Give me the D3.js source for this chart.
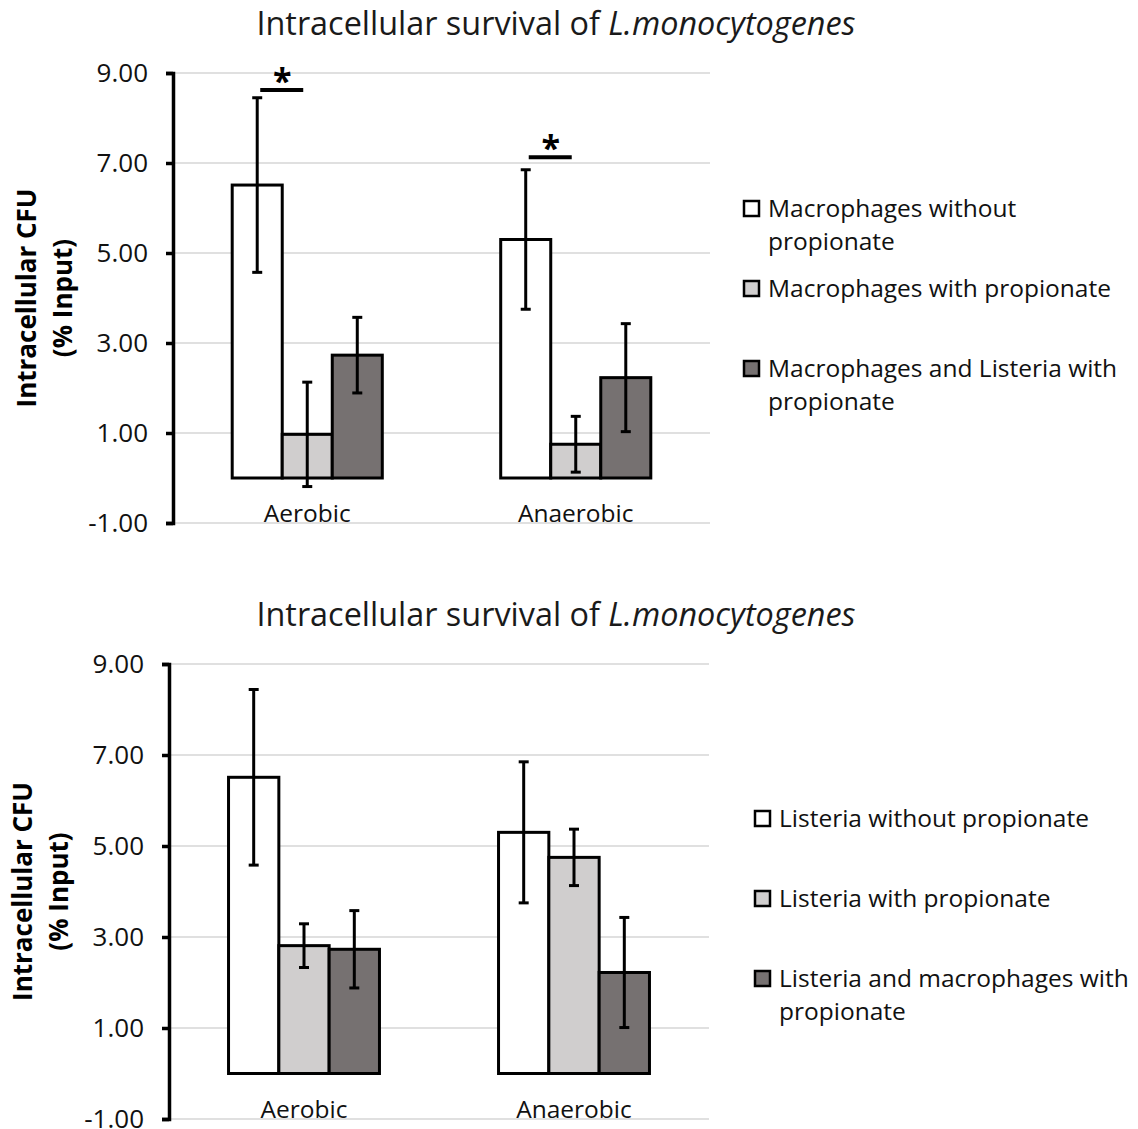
<!DOCTYPE html>
<html lang="en">
<head>
    <meta charset="UTF-8">
    <title>Intracellular survival of L.monocytogenes</title>
    <script src="https://d3js.org/d3.v7.min.js"></script>
    <style>
        body { margin: 0; background: #fff; }
        svg { display: block; font-family: "Open Sans", Lato, sans-serif; }
    </style>
</head>
<body>
    <svg width="1138" height="1129"></svg>

    <script>
        // Data
        const categories = ["Aerobic", "Anaerobic"];
        const yTicks = [-1, 1, 3, 5, 7, 9];
        const seriesFills = ["#ffffff", "#d0cece", "#767171"];

        const topSeries = [
            ["Macrophages without", "propionate"],
            ["Macrophages with propionate"],
            ["Macrophages and Listeria with", "propionate"]
        ];
        // one array per series, values per category
        const topMeans = [[6.51, 5.30], [0.97, 0.75], [2.73, 2.23]];
        const topErrors = [[1.94, 1.55], [1.16, 0.62], [0.84, 1.20]];
        const topSig = [
            { category: "Aerobic", value: 8.62 },
            { category: "Anaerobic", value: 7.13 }
        ];

        const bottomSeries = [
            ["Listeria without propionate"],
            ["Listeria with propionate"],
            ["Listeria and macrophages with", "propionate"]
        ];
        const bottomMeans = [[6.51, 5.30], [2.81, 4.75], [2.73, 2.22]];
        const bottomErrors = [[1.93, 1.55], [0.48, 0.62], [0.85, 1.21]];

        const svg = d3.select("svg");

        function drawPanel(p) {
            const g = svg.append("g");

            const y = d3.scaleLinear().domain([-1, 9]).range([p.yBottom, p.yTop]);
            const x = d3.scaleBand().domain(categories)
                .range([p.left, p.right])
                .paddingInner(0.441).paddingOuter(0.2205);
            const xs = d3.scaleBand().domain(d3.range(p.series.length))
                .range([0, x.bandwidth()]);

            // title
            const title = g.append("text")
                .attr("x", 556).attr("y", p.titleY)
                .attr("text-anchor", "middle")
                .attr("dominant-baseline", "central")
                .style("font-size", "32.4px").attr("fill", "#1a1a1a");
            title.append("tspan").text("Intracellular survival of ");
            title.append("tspan").style("font-style", "italic").text("L.monocytogenes");

            // gridlines
            g.append("g").selectAll("line")
                .data(yTicks).join("line")
                .attr("x1", p.left).attr("x2", p.right)
                .attr("y1", d => y(d)).attr("y2", d => y(d))
                .attr("stroke", "#d6d6d6").attr("stroke-width", 1.5);

            // y axis
            const axis = g.append("g")
                .attr("transform", `translate(${p.left},0)`)
                .call(d3.axisLeft(y).tickValues(yTicks)
                    .tickFormat(d => d.toFixed(2)).tickSize(7).tickPadding(18));
            axis.select(".domain").attr("stroke", "#000").attr("stroke-width", 3.5);
            axis.selectAll(".tick line").attr("stroke", "#000").attr("stroke-width", 3.5);
            axis.selectAll(".tick text")
                .style("font-size", "26px").attr("fill", "#111")
                .attr("font-family", "'Open Sans', sans-serif");

            // y axis title
            const yt = g.append("text")
                .attr("transform", `translate(${p.left - 146},${(p.yTop + p.yBottom) / 2}) rotate(-90)`)
                .attr("text-anchor", "middle")
                .style("font-size", "26px").style("font-weight", "bold");
            yt.append("tspan").attr("x", 0).attr("dy", "0.35em").text("Intracellular CFU");
            yt.append("tspan").attr("x", 0).attr("dy", "1.4em").text("(% Input)");

            // bars
            const flat = [];
            p.means.forEach((vals, si) => vals.forEach((v, ci) => {
                flat.push({ s: si, c: categories[ci], v: v, e: p.errors[si][ci] });
            }));

            g.append("g").selectAll("rect")
                .data(flat).join("rect")
                .attr("x", d => x(d.c) + xs(d.s))
                .attr("width", xs.bandwidth())
                .attr("y", d => y(d.v))
                .attr("height", d => y(0) - y(d.v))
                .attr("fill", d => seriesFills[d.s])
                .attr("stroke", "#000").attr("stroke-width", 3);

            // error bars
            const eb = g.append("g").attr("stroke", "#000").attr("stroke-width", 3);
            const cx = d => x(d.c) + xs(d.s) + xs.bandwidth() / 2;
            eb.selectAll(".stem").data(flat).join("line")
                .attr("x1", cx).attr("x2", cx)
                .attr("y1", d => y(d.v + d.e)).attr("y2", d => y(d.v - d.e));
            eb.selectAll(".capTop").data(flat).join("line")
                .attr("x1", d => cx(d) - 5).attr("x2", d => cx(d) + 5)
                .attr("y1", d => y(d.v + d.e)).attr("y2", d => y(d.v + d.e));
            eb.selectAll(".capBot").data(flat).join("line")
                .attr("x1", d => cx(d) - 5).attr("x2", d => cx(d) + 5)
                .attr("y1", d => y(d.v - d.e)).attr("y2", d => y(d.v - d.e));

            // category labels sit on the -1 gridline
            g.append("g").selectAll("text")
                .data(categories).join("text")
                .attr("x", d => x(d) + x.bandwidth() / 2)
                .attr("y", y(-1) - 1)
                .attr("text-anchor", "middle")
                .style("font-size", "24.5px").attr("fill", "#111")
                .text(d => d);

            // significance markers
            const sg = g.append("g").selectAll("g")
                .data(p.sig || []).join("g");
            sg.append("line")
                .attr("x1", d => x(d.category) + xs(1) - 22)
                .attr("x2", d => x(d.category) + xs(1) + 21)
                .attr("y1", d => y(d.value)).attr("y2", d => y(d.value))
                .attr("stroke", "#000").attr("stroke-width", 4);
            sg.append("text")
                .attr("x", d => x(d.category) + xs(1))
                .attr("y", d => y(d.value) + 3)
                .attr("text-anchor", "middle")
                .style("font-size", "34px").style("font-weight", "bold")
                .text("*");

            // legend
            const lg = g.append("g").selectAll("g")
                .data(p.series).join("g")
                .attr("transform", (d, i) => `translate(${p.legendX},${p.legendY + i * 80})`);
            lg.append("rect")
                .attr("x", 1).attr("y", -7).attr("width", 15).attr("height", 15)
                .attr("fill", (d, i) => seriesFills[i])
                .attr("stroke", "#000").attr("stroke-width", 2.5);
            lg.append("text")
                .attr("x", 25)
                .style("font-size", "24.5px").attr("fill", "#111")
                .selectAll("tspan").data(d => d).join("tspan")
                .attr("x", 25)
                .attr("y", (d, i) => i * 33)
                .attr("dy", "0.35em")
                .text(d => d);
        }

        drawPanel({
            left: 173, right: 710, yTop: 73, yBottom: 523, titleY: 22,
            legendX: 743, legendY: 208,
            series: topSeries, means: topMeans, errors: topErrors, sig: topSig
        });
        drawPanel({
            left: 169, right: 709, yTop: 664, yBottom: 1119, titleY: 613,
            legendX: 754, legendY: 818,
            series: bottomSeries, means: bottomMeans, errors: bottomErrors
        });
    </script>
</body>
</html>
